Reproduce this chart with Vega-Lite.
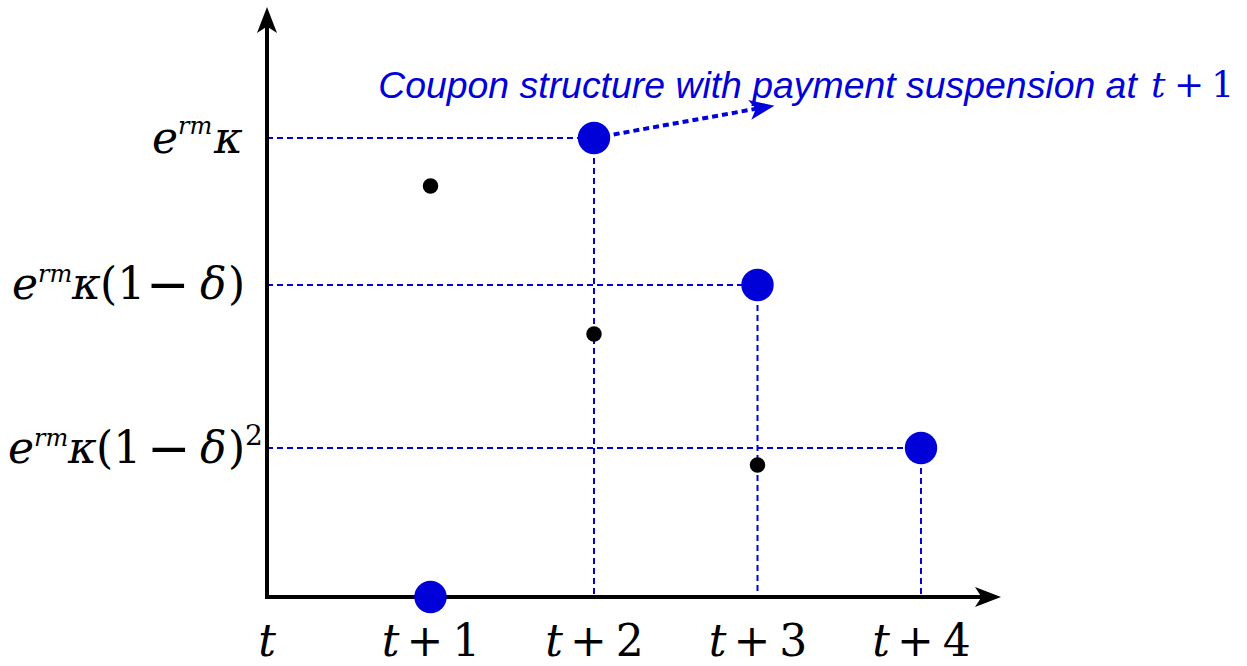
{
  "$schema": "https://vega.github.io/schema/vega-lite/v6.json",
  "width": 1247,
  "height": 666,
  "autosize": {"type": "none"},
  "padding": 0,
  "background": "white",
  "config": {"view": {"stroke": null}},
  "datasets": {
    "seg": [
      {"x": 0, "y": 1.0, "x2": 2, "y2": 1.0, "kind": "dash"},
      {"x": 0, "y": 0.6797, "x2": 3, "y2": 0.6797, "kind": "dash"},
      {"x": 0, "y": 0.3246, "x2": 4, "y2": 0.3246, "kind": "dash"},
      {"x": 2, "y": 1.0, "x2": 2, "y2": 0, "kind": "dash"},
      {"x": 3, "y": 0.6797, "x2": 3, "y2": 0, "kind": "dash"},
      {"x": 4, "y": 0.3246, "x2": 4, "y2": 0, "kind": "dash"},
      {"x": 0, "y": 0, "x2": 0, "y2": 1.244, "kind": "axis"},
      {"x": 0, "y": 0, "x2": 4.379, "y2": 0, "kind": "axis"},
      {"x": 2, "y": 1.0, "x2": 2.991, "y2": 1.0636, "kind": "arrow"}
    ],
    "heads": [
      {"u": 0, "v": 1.2571, "dir": "up"},
      {"u": 4.4098, "v": 0, "dir": "right"},
      {"u": 3.028, "v": 1.0658, "dir": "ann"}
    ],
    "pts": [
      {"k": 1, "val": 0, "series": "payment"},
      {"k": 2, "val": 1.0, "series": "payment"},
      {"k": 3, "val": 0.6797, "series": "payment"},
      {"k": 4, "val": 0.3246, "series": "payment"},
      {"k": 1, "val": 0.8954, "series": "coupon"},
      {"k": 2, "val": 0.573, "series": "coupon"},
      {"k": 3, "val": 0.2876, "series": "coupon"}
    ],
    "ticks": [
      {"k": 0, "lab": "t", "pl": ""},
      {"k": 1, "lab": "t", "pl": "+\u20091"},
      {"k": 2, "lab": "t", "pl": "+\u20092"},
      {"k": 3, "lab": "t", "pl": "+\u20093"},
      {"k": 4, "lab": "t", "pl": "+\u20094"}
    ],
    "txt": [
      {"t": "e", "u": -0.7034, "v": 0.9673, "role": "it"},
      {"t": "rm", "u": -0.5443, "v": 1.0087, "role": "sm"},
      {"t": "κ", "u": -0.3242, "v": 0.9673, "role": "it"},
      {"t": "e", "u": -1.5596, "v": 0.6492, "role": "it"},
      {"t": "rm", "u": -1.4006, "v": 0.6863, "role": "sm"},
      {"t": "κ", "u": -1.1927, "v": 0.6492, "role": "it"},
      {"t": "(1", "u": -1.0214, "v": 0.6492, "role": "up"},
      {"t": "−", "u": -0.7401, "v": 0.6435, "role": "mi"},
      {"t": "δ", "u": -0.4098, "v": 0.6492, "role": "it"},
      {"t": ")", "u": -0.2385, "v": 0.6492, "role": "up"},
      {"t": "e", "u": -1.5841, "v": 0.2919, "role": "it"},
      {"t": "rm", "u": -1.4251, "v": 0.329, "role": "sm"},
      {"t": "κ", "u": -1.2171, "v": 0.2919, "role": "it"},
      {"t": "(1", "u": -1.0459, "v": 0.2919, "role": "up"},
      {"t": "−", "u": -0.7339, "v": 0.2862, "role": "mi"},
      {"t": "δ", "u": -0.4098, "v": 0.2919, "role": "it"},
      {"t": ")", "u": -0.2385, "v": 0.2919, "role": "up"},
      {"t": "2", "u": -0.1346, "v": 0.3312, "role": "sup"},
      {"t": "Coupon structure with payment suspension at", "u": 0.68, "v": 1.088, "role": "ann"},
      {"t": "t", "u": 5.4067, "v": 1.0893, "role": "annit"},
      {"t": "+\u20091", "u": 5.5474, "v": 1.0893, "role": "annup"}
    ]
  },
  "layer": [
    {
      "data": {"name": "seg"},
      "transform": [{"filter": "datum.kind === 'dash'"}],
      "mark": {"type": "rule", "color": "#0000d8", "strokeWidth": 2, "strokeDash": [6, 4]},
      "encoding": {
        "x": {"field": "x", "type": "quantitative", "scale": {"domain": [-1.63303, 5.99388], "nice": false, "zero": false}, "axis": null},
        "y": {"field": "y", "type": "quantitative", "scale": {"domain": [-0.15033, 1.30065], "nice": false, "zero": false}, "axis": null},
        "x2": {"field": "x2"},
        "y2": {"field": "y2"}
      }
    },
    {
      "data": {"name": "seg"},
      "transform": [{"filter": "datum.kind === 'axis'"}],
      "mark": {"type": "rule", "color": "black", "strokeWidth": 4, "strokeCap": "square"},
      "encoding": {
        "x": {"field": "x", "type": "quantitative", "scale": {"domain": [-1.63303, 5.99388], "nice": false, "zero": false}, "axis": null},
        "y": {"field": "y", "type": "quantitative", "scale": {"domain": [-0.15033, 1.30065], "nice": false, "zero": false}, "axis": null},
        "x2": {"field": "x2"},
        "y2": {"field": "y2"}
      }
    },
    {
      "data": {"name": "seg"},
      "transform": [{"filter": "datum.kind === 'arrow'"}],
      "mark": {"type": "rule", "color": "#0000d8", "strokeWidth": 4, "strokeDash": [6, 4]},
      "encoding": {
        "x": {"field": "x", "type": "quantitative", "scale": {"domain": [-1.63303, 5.99388], "nice": false, "zero": false}, "axis": null},
        "y": {"field": "y", "type": "quantitative", "scale": {"domain": [-0.15033, 1.30065], "nice": false, "zero": false}, "axis": null},
        "x2": {"field": "x2"},
        "y2": {"field": "y2"}
      }
    },
    {
      "data": {"name": "heads"},
      "transform": [{"filter": "datum.dir === 'up'"}],
      "mark": {"type": "point", "filled": true, "opacity": 1, "color": "black", "size": 676, "shape": "M0,-1L0.77,1L0,0.5L-0.77,1Z"},
      "encoding": {
        "x": {"field": "u", "type": "quantitative", "scale": {"domain": [-1.63303, 5.99388], "nice": false, "zero": false}, "axis": null},
        "y": {"field": "v", "type": "quantitative", "scale": {"domain": [-0.15033, 1.30065], "nice": false, "zero": false}, "axis": null}
      }
    },
    {
      "data": {"name": "heads"},
      "transform": [{"filter": "datum.dir === 'right'"}],
      "mark": {"type": "point", "filled": true, "opacity": 1, "color": "black", "size": 676, "shape": "M1,0L-1,0.77L-0.5,0L-1,-0.77Z"},
      "encoding": {
        "x": {"field": "u", "type": "quantitative", "scale": {"domain": [-1.63303, 5.99388], "nice": false, "zero": false}, "axis": null},
        "y": {"field": "v", "type": "quantitative", "scale": {"domain": [-0.15033, 1.30065], "nice": false, "zero": false}, "axis": null}
      }
    },
    {
      "data": {"name": "heads"},
      "transform": [{"filter": "datum.dir === 'ann'"}],
      "mark": {"type": "point", "filled": true, "opacity": 1, "color": "#0000d8", "size": 625, "angle": 350.8, "shape": "M1,0L-1,0.8L-0.5,0L-1,-0.8Z"},
      "encoding": {
        "x": {"field": "u", "type": "quantitative", "scale": {"domain": [-1.63303, 5.99388], "nice": false, "zero": false}, "axis": null},
        "y": {"field": "v", "type": "quantitative", "scale": {"domain": [-0.15033, 1.30065], "nice": false, "zero": false}, "axis": null}
      }
    },
    {
      "data": {"name": "pts"},
      "mark": {"type": "circle", "opacity": 1},
      "encoding": {
        "x": {"field": "k", "type": "quantitative", "scale": {"domain": [-1.63303, 5.99388], "nice": false, "zero": false}, "axis": null},
        "y": {"field": "val", "type": "quantitative", "scale": {"domain": [-0.15033, 1.30065], "nice": false, "zero": false}, "axis": null},
        "color": {"field": "series", "type": "nominal", "scale": {"domain": ["payment", "coupon"], "range": ["#0000d8", "black"]}, "legend": null},
        "size": {"field": "series", "type": "nominal", "scale": {"domain": ["payment", "coupon"], "range": [1050, 240]}, "legend": null}
      }
    },
    {
      "data": {"name": "ticks"},
      "transform": [{"filter": "datum.k === 0"}],
      "mark": {"type": "text", "font": "DejaVu Serif", "fontStyle": "italic", "fontSize": 44, "align": "center", "baseline": "alphabetic", "color": "black"},
      "encoding": {
        "x": {"field": "k", "type": "quantitative", "scale": {"domain": [-1.63303, 5.99388], "nice": false, "zero": false}, "axis": null},
        "y": {"datum": -0.1285, "type": "quantitative", "scale": {"domain": [-0.15033, 1.30065], "nice": false, "zero": false}, "axis": null},
        "text": {"field": "lab"}
      }
    },
    {
      "data": {"name": "ticks"},
      "transform": [{"filter": "datum.k > 0"}],
      "mark": {"type": "text", "font": "DejaVu Serif", "fontStyle": "italic", "fontSize": 44, "align": "center", "baseline": "alphabetic", "color": "black", "dx": -40},
      "encoding": {
        "x": {"field": "k", "type": "quantitative", "scale": {"domain": [-1.63303, 5.99388], "nice": false, "zero": false}, "axis": null},
        "y": {"datum": -0.1285, "type": "quantitative", "scale": {"domain": [-0.15033, 1.30065], "nice": false, "zero": false}, "axis": null},
        "text": {"field": "lab"}
      }
    },
    {
      "data": {"name": "ticks"},
      "transform": [{"filter": "datum.k > 0"}],
      "mark": {"type": "text", "font": "DejaVu Serif", "fontSize": 44, "align": "left", "baseline": "alphabetic", "color": "black", "dx": -24},
      "encoding": {
        "x": {"field": "k", "type": "quantitative", "scale": {"domain": [-1.63303, 5.99388], "nice": false, "zero": false}, "axis": null},
        "y": {"datum": -0.1285, "type": "quantitative", "scale": {"domain": [-0.15033, 1.30065], "nice": false, "zero": false}, "axis": null},
        "text": {"field": "pl"}
      }
    },
    {
      "data": {"name": "txt"},
      "transform": [{"filter": "datum.role === 'it'"}],
      "mark": {"type": "text", "font": "DejaVu Serif", "fontStyle": "italic", "fontSize": 44, "align": "left", "baseline": "alphabetic", "color": "black"},
      "encoding": {
        "x": {"field": "u", "type": "quantitative", "scale": {"domain": [-1.63303, 5.99388], "nice": false, "zero": false}, "axis": null},
        "y": {"field": "v", "type": "quantitative", "scale": {"domain": [-0.15033, 1.30065], "nice": false, "zero": false}, "axis": null},
        "text": {"field": "t"}
      }
    },
    {
      "data": {"name": "txt"},
      "transform": [{"filter": "datum.role === 'up'"}],
      "mark": {"type": "text", "font": "DejaVu Serif", "fontSize": 44, "align": "left", "baseline": "alphabetic", "color": "black"},
      "encoding": {
        "x": {"field": "u", "type": "quantitative", "scale": {"domain": [-1.63303, 5.99388], "nice": false, "zero": false}, "axis": null},
        "y": {"field": "v", "type": "quantitative", "scale": {"domain": [-0.15033, 1.30065], "nice": false, "zero": false}, "axis": null},
        "text": {"field": "t"}
      }
    },
    {
      "data": {"name": "txt"},
      "transform": [{"filter": "datum.role === 'mi'"}],
      "mark": {"type": "text", "font": "DejaVu Serif", "fontSize": 52, "align": "left", "baseline": "alphabetic", "color": "black"},
      "encoding": {
        "x": {"field": "u", "type": "quantitative", "scale": {"domain": [-1.63303, 5.99388], "nice": false, "zero": false}, "axis": null},
        "y": {"field": "v", "type": "quantitative", "scale": {"domain": [-0.15033, 1.30065], "nice": false, "zero": false}, "axis": null},
        "text": {"field": "t"}
      }
    },
    {
      "data": {"name": "txt"},
      "transform": [{"filter": "datum.role === 'sm'"}],
      "mark": {"type": "text", "font": "DejaVu Serif", "fontStyle": "italic", "fontSize": 24, "align": "left", "baseline": "alphabetic", "color": "black"},
      "encoding": {
        "x": {"field": "u", "type": "quantitative", "scale": {"domain": [-1.63303, 5.99388], "nice": false, "zero": false}, "axis": null},
        "y": {"field": "v", "type": "quantitative", "scale": {"domain": [-0.15033, 1.30065], "nice": false, "zero": false}, "axis": null},
        "text": {"field": "t"}
      }
    },
    {
      "data": {"name": "txt"},
      "transform": [{"filter": "datum.role === 'sup'"}],
      "mark": {"type": "text", "font": "DejaVu Serif", "fontSize": 28, "align": "left", "baseline": "alphabetic", "color": "black"},
      "encoding": {
        "x": {"field": "u", "type": "quantitative", "scale": {"domain": [-1.63303, 5.99388], "nice": false, "zero": false}, "axis": null},
        "y": {"field": "v", "type": "quantitative", "scale": {"domain": [-0.15033, 1.30065], "nice": false, "zero": false}, "axis": null},
        "text": {"field": "t"}
      }
    },
    {
      "data": {"name": "txt"},
      "transform": [{"filter": "datum.role === 'ann'"}],
      "mark": {"type": "text", "font": "Liberation Sans", "fontStyle": "italic", "fontSize": 37.4, "align": "left", "baseline": "alphabetic", "color": "#0000d8"},
      "encoding": {
        "x": {"field": "u", "type": "quantitative", "scale": {"domain": [-1.63303, 5.99388], "nice": false, "zero": false}, "axis": null},
        "y": {"field": "v", "type": "quantitative", "scale": {"domain": [-0.15033, 1.30065], "nice": false, "zero": false}, "axis": null},
        "text": {"field": "t"}
      }
    },
    {
      "data": {"name": "txt"},
      "transform": [{"filter": "datum.role === 'annit'"}],
      "mark": {"type": "text", "font": "DejaVu Serif", "fontStyle": "italic", "fontSize": 36, "align": "left", "baseline": "alphabetic", "color": "#0000d8"},
      "encoding": {
        "x": {"field": "u", "type": "quantitative", "scale": {"domain": [-1.63303, 5.99388], "nice": false, "zero": false}, "axis": null},
        "y": {"field": "v", "type": "quantitative", "scale": {"domain": [-0.15033, 1.30065], "nice": false, "zero": false}, "axis": null},
        "text": {"field": "t"}
      }
    },
    {
      "data": {"name": "txt"},
      "transform": [{"filter": "datum.role === 'annup'"}],
      "mark": {"type": "text", "font": "DejaVu Serif", "fontSize": 36, "align": "left", "baseline": "alphabetic", "color": "#0000d8"},
      "encoding": {
        "x": {"field": "u", "type": "quantitative", "scale": {"domain": [-1.63303, 5.99388], "nice": false, "zero": false}, "axis": null},
        "y": {"field": "v", "type": "quantitative", "scale": {"domain": [-0.15033, 1.30065], "nice": false, "zero": false}, "axis": null},
        "text": {"field": "t"}
      }
    }
  ]
}
